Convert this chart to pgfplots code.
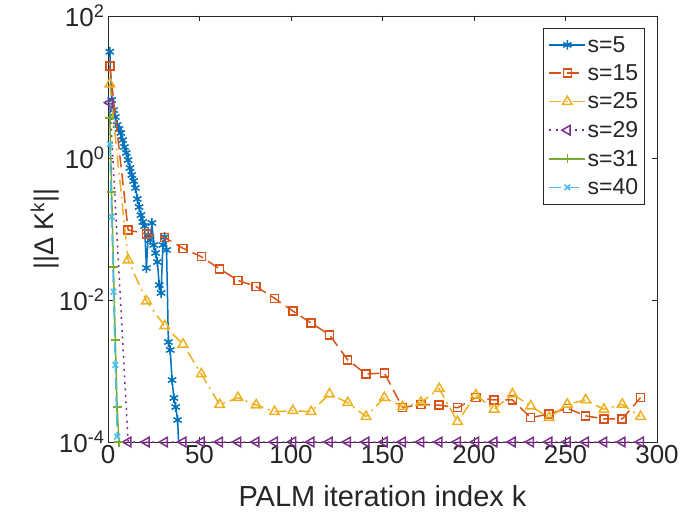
\documentclass[border=0pt]{standalone}
\usepackage{pgfplots}
\pgfplotsset{compat=1.18}
\usepackage{fontspec}
\setmainfont{Liberation Sans}
\usetikzlibrary{calc}
\definecolor{c1}{rgb}{0,0.447,0.741}
\definecolor{c2}{rgb}{0.85,0.325,0.098}
\definecolor{c3}{rgb}{0.929,0.694,0.125}
\definecolor{c4}{rgb}{0.494,0.184,0.556}
\definecolor{c5}{rgb}{0.466,0.674,0.188}
\definecolor{c6}{rgb}{0.301,0.745,0.933}
\definecolor{axc}{rgb}{0.15,0.15,0.15}
\begin{document}
\begin{tikzpicture}
\begin{axis}[name=ax,
  width=549pt, height=426pt, scale only axis,
  ymode=log, xmin=0, xmax=300, ymin=1e-4, ymax=100,
  xtick={0,50,...,300},
  ytick={1e-4,1e-2,1,100},
  yticklabels={10\textsuperscript{-4},10\textsuperscript{-2},10\textsuperscript{0},10\textsuperscript{2}},
  yminorticks=false,
  tick align=inside, major tick length=5.5pt,
  axis line style={axc, line width=0.7pt},
  every tick/.style={axc, line width=0.7pt},
  every tick label/.append style={font=\fontsize{26}{30}\selectfont, text=axc},
  /pgf/number format/assume math mode=true,
  xlabel={PALM iteration index k},
  ylabel={||Δ K\textsuperscript{k}||},
  every axis x label/.style={at={(axis description cs:0.5,-0.128)}, anchor=center, font=\fontsize{29}{33}\selectfont, text=axc},
  every axis y label/.style={at={(axis description cs:-0.115,0.5)}, anchor=center, rotate=90, font=\fontsize{27}{31}\selectfont, text=axc},
  clip mode=individual,
  legend style={at={(rel axis cs:0.978,0.972)}, anchor=north east, font=\fontsize{23}{27}\selectfont, text=axc, draw=axc, line width=0.6pt, nodes={inner sep=1.5pt}, row sep=8pt, inner xsep=5pt, inner ysep=6.5pt},
  legend cell align=left,
  legend image code/.code={\draw[mark indices={2}, line width=1.5pt] plot coordinates {(0pt,0pt) (18pt,0pt) (36pt,0pt)};},
  every axis plot/.append style={line width=1.5pt},
]
\addplot[c1, solid, line width=1.5pt, mark=asterisk, mark size=4.8pt, mark options={solid},
  mark indices={1,2,3,4,5,6,7,8,9,10,11,12,13,14,15,16,17,18,19,20,21,22,23,24,25,26,27,28,29,30,31,32,33,34,35,36,37,38}]
coordinates {(1,31.4)(2,6.56)(3,4.74)(4,3.78)(5,2.92)(6,2.56)(7,2.25)(8,1.79)(9,1.43)(10,1.18)(11,0.937)(12,0.723)(13,0.576)(14,0.474)(15,0.378)(16,0.265)(17,0.204)(18,0.157)(19,0.1256)(20,0.110)(21,0.0282)(22,0.0822)(23,0.070)(24,0.1216)(25,0.0596)(26,0.0459)(27,0.0343)(28,0.01625)(29,0.01256)(30,0.0596)(31,0.0771)(32,0.0506)(33,0.00256)(34,0.00198)(35,7.46e-4)(36,4.17e-4)(37,3.11e-4)(38,2.04e-4)(38.6,1e-4)};
\addlegendentry{s=5}
\addplot[c2, line width=1.5pt, dash pattern=on 12pt off 6pt, mark=square, mark size=4pt, mark options={solid}]
coordinates {(1,19.8)(11,0.0968)(21,0.0851)(31,0.0755)(41,0.0535)(51,0.0407)(61,0.0274)(71,0.0189)(81,0.0154)(91,0.01057)(101,7.0e-3)(111,4.74e-3)(121,3.24e-3)(131,1.43e-3)(141,9.08e-4)(151,9.38e-4)(161,3.04e-4)(171,3.40e-4)(181,3.31e-4)(191,3.04e-4)(201,4.21e-4)(211,3.91e-4)(221,3.91e-4)(231,2.20e-4)(241,2.48e-4)(251,2.98e-4)(261,2.34e-4)(271,2.11e-4)(281,2.11e-4)(291,4.21e-4)};
\addlegendentry{s=15}
\addplot[c3, line width=1.5pt, dash pattern=on 12pt off 5pt on 2pt off 5pt, mark=triangle, mark size=5.5pt, mark options={solid}]
coordinates {(1,11.0)(11,0.0366)(21,9.68e-3)(31,4.31e-3)(41,2.38e-3)(51,9.08e-4)(61,3.36e-4)(71,4.21e-4)(81,3.32e-4)(91,2.67e-4)(101,2.76e-4)(111,2.67e-4)(121,4.74e-4)(131,3.58e-4)(141,2.28e-4)(151,4.21e-4)(161,3.14e-4)(171,3.6e-4)(181,5.64e-4)(191,1.93e-4)(201,4.59e-4)(211,2.88e-4)(221,4.74e-4)(231,3.21e-4)(241,2.20e-4)(251,3.40e-4)(261,3.91e-4)(271,2.88e-4)(281,3.40e-4)(291,2.28e-4)};
\addlegendentry{s=25}
\addplot[c4, line width=1.5pt, dash pattern=on 2pt off 4.5pt, mark=triangle, mark size=5.5pt, mark options={solid, rotate=90}]
coordinates {(1,6.01)(11,1e-4)(21,1e-4)(31,1e-4)(41,1e-4)(51,1e-4)(61,1e-4)(71,1e-4)(81,1e-4)(91,1e-4)(101,1e-4)(111,1e-4)(121,1e-4)(131,1e-4)(141,1e-4)(151,1e-4)(161,1e-4)(171,1e-4)(181,1e-4)(191,1e-4)(201,1e-4)(211,1e-4)(221,1e-4)(231,1e-4)(241,1e-4)(251,1e-4)(261,1e-4)(271,1e-4)(281,1e-4)(291,1e-4)};
\addlegendentry{s=29}
\addplot[c5, line width=1.5pt, solid, mark=+, mark size=4.5pt, mark options={solid}]
coordinates {(1,3.66)(2,0.332)(3,0.0292)(4,2.74e-3)(5,3.11e-4)(6,1e-4)};
\addlegendentry{s=31}
\addplot[c6, line width=1.5pt, dash pattern=on 12pt off 6pt, mark=x, mark size=4pt, mark options={solid}]
coordinates {(1,1.57)(2,0.149)(3,0.0131)(4,1.22e-3)(5,1.19e-4)};
\addlegendentry{s=40}
\end{axis}
\pgfresetboundingbox
\path ($(ax.south west)+(-108pt,-72pt)$) rectangle ($(ax.north east)+(23pt,16pt)$);
\end{tikzpicture}
\end{document}
